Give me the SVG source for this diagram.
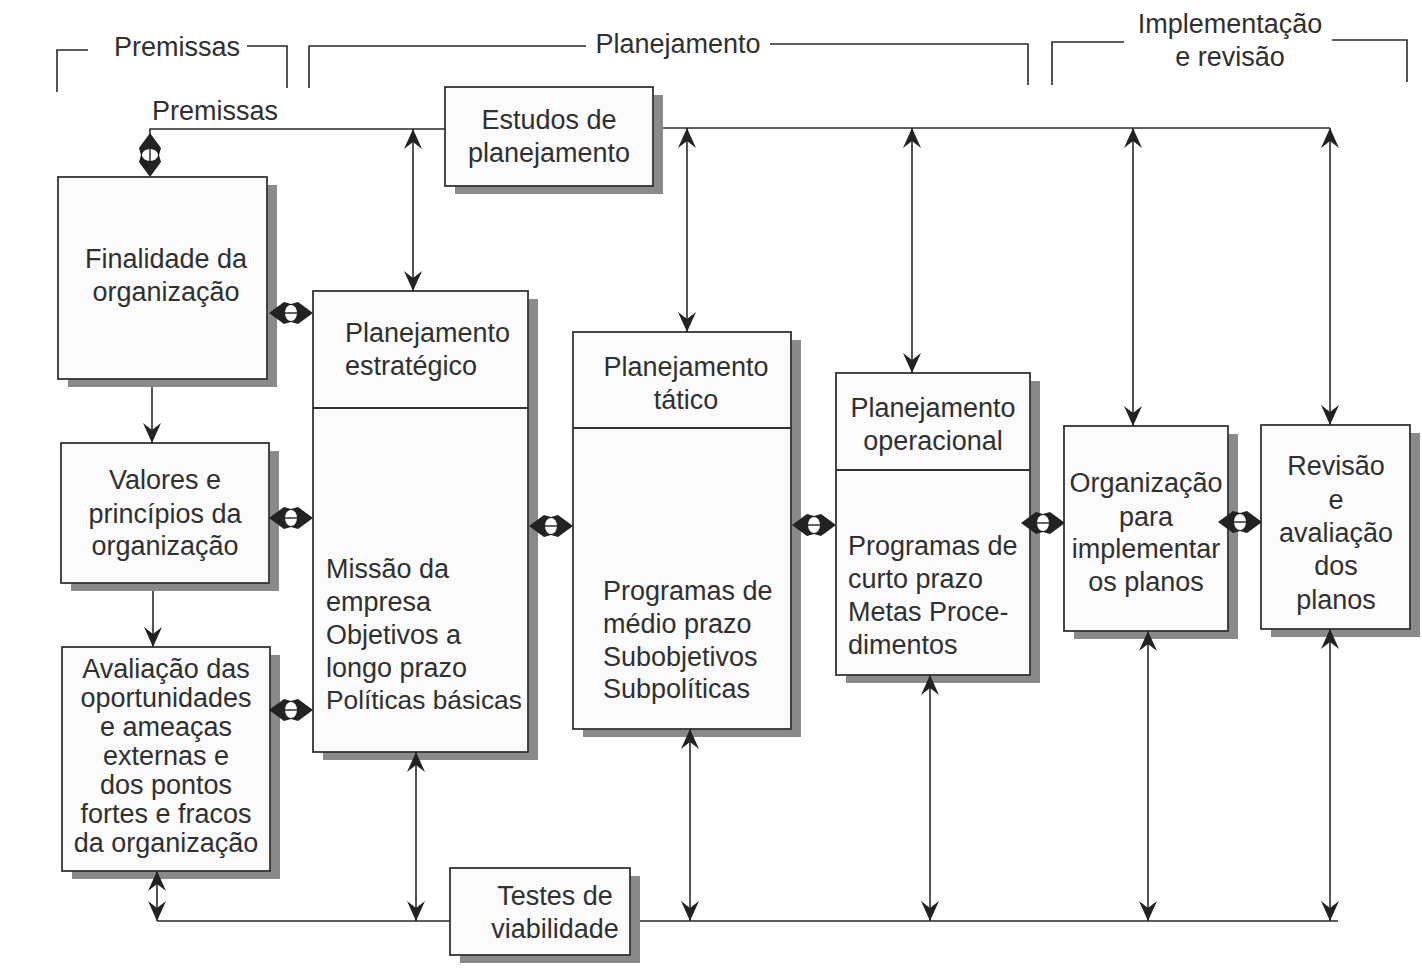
<svg xmlns="http://www.w3.org/2000/svg" width="1422" height="973" viewBox="0 0 1422 973">
<defs>
<style>
.box{fill:#fbfbfb;stroke:#333;stroke-width:1.8}
.sh{fill:#8a8a8a}
.ln{fill:none;stroke:#2a2a2a;stroke-width:1.6}
.ar2{fill:none;stroke:#2a2a2a;stroke-width:1.6;marker-start:url(#ah);marker-end:url(#ah)}
.ar1{fill:none;stroke:#2a2a2a;stroke-width:1.6;marker-end:url(#ah)}
.dv{stroke:#333;stroke-width:1.8}
text{font-family:"Liberation Sans",Arial,sans-serif;font-size:27px;fill:#303030}
.c{text-anchor:middle}
</style>
<marker id="ah" viewBox="-20 -9 20 18" refX="0" refY="0" markerWidth="20" markerHeight="18" markerUnits="userSpaceOnUse" orient="auto-start-reverse">
<path d="M0,0 L-20,-9 L-13,0 L-20,9 Z" fill="#222"/>
</marker>
<g id="dd">
<polygon points="-22,0 -7,-11 0,-9 7,-11 22,0 7,11 0,9 -7,11" fill="#222"/>
<ellipse cx="0" cy="0" rx="6" ry="8" fill="#fff"/>
<line x1="-6" y1="0" x2="6" y2="0" stroke="#222" stroke-width="1.4"/>
</g>
</defs>
<rect width="1422" height="973" fill="#fff"/>

<g id="brackets">
<path class="ln" d="M57,92 V50 H88 M247,46 H287 V88"/>
<path class="ln" d="M309,88 V46 H586 M770,44 H1028 V85"/>
<path class="ln" d="M1052,85 V42 H1124 M1332,40 H1407 V82"/>
<text class="c" x="177" y="56">Premissas</text>
<text class="c" x="678" y="53">Planejamento</text>
<text class="c" x="1230" y="33">Implementação</text>
<text class="c" x="1230" y="66">e revisão</text>
<text class="c" x="215" y="120">Premissas</text>
</g>

<g id="estudos">
<rect class="sh" x="455" y="95" width="208" height="99"/>
<rect class="box" x="445" y="87" width="208" height="99"/>
<text class="c" x="549" y="129">Estudos de</text>
<text class="c" x="549" y="162">planejamento</text>
</g>

<g id="finalidade">
<rect class="sh" x="68" y="185" width="209" height="202"/>
<rect class="box" x="58" y="177" width="209" height="202"/>
<text class="c" x="166" y="268">Finalidade da</text>
<text class="c" x="166" y="301">organização</text>
</g>

<g id="valores">
<rect class="sh" x="71" y="451" width="208" height="140"/>
<rect class="box" x="61" y="443" width="208" height="140"/>
<text class="c" x="165" y="489">Valores e</text>
<text class="c" x="165" y="523">princípios da</text>
<text class="c" x="165" y="555">organização</text>
</g>

<g id="avaliacao">
<rect class="sh" x="72" y="655" width="208" height="224"/>
<rect class="box" x="62" y="647" width="208" height="224"/>
<text class="c" x="166" y="678">Avaliação das</text>
<text class="c" x="166" y="707">oportunidades</text>
<text class="c" x="166" y="736">e ameaças</text>
<text class="c" x="166" y="765">externas e</text>
<text class="c" x="166" y="794">dos pontos</text>
<text class="c" x="166" y="823">fortes e fracos</text>
<text class="c" x="166" y="852">da organização</text>
</g>

<g id="estrategico">
<rect class="sh" x="323" y="299" width="215" height="461"/>
<rect class="box" x="313" y="291" width="215" height="461"/>
<line class="dv" x1="313" y1="408" x2="528" y2="408"/>
<text x="345" y="342">Planejamento</text>
<text x="345" y="375">estratégico</text>
<text x="326" y="578">Missão da</text>
<text x="326" y="611">empresa</text>
<text x="326" y="644">Objetivos a</text>
<text x="326" y="677">longo prazo</text>
<text x="326" y="709" style="font-size:26.3px">Políticas básicas</text>
</g>

<g id="tatico">
<rect class="sh" x="583" y="340" width="218" height="397"/>
<rect class="box" x="573" y="332" width="218" height="397"/>
<line class="dv" x1="573" y1="428" x2="791" y2="428"/>
<text class="c" x="686" y="376">Planejamento</text>
<text class="c" x="686" y="409">tático</text>
<text x="603" y="600">Programas de</text>
<text x="603" y="633">médio prazo</text>
<text x="603" y="666">Subobjetivos</text>
<text x="603" y="698">Subpolíticas</text>
</g>

<g id="operacional">
<rect class="sh" x="846" y="381" width="194" height="302"/>
<rect class="box" x="836" y="373" width="194" height="302"/>
<line class="dv" x1="836" y1="470" x2="1030" y2="470"/>
<text class="c" x="933" y="417">Planejamento</text>
<text class="c" x="933" y="450">operacional</text>
<text x="848" y="555">Programas de</text>
<text x="848" y="588">curto prazo</text>
<text x="848" y="621">Metas Proce-</text>
<text x="848" y="654">dimentos</text>
</g>

<g id="organizacao">
<rect class="sh" x="1074" y="434" width="164" height="205"/>
<rect class="box" x="1064" y="426" width="164" height="205"/>
<text class="c" x="1146" y="492">Organização</text>
<text class="c" x="1146" y="526">para</text>
<text class="c" x="1146" y="558">implementar</text>
<text class="c" x="1146" y="591">os planos</text>
</g>

<g id="revisao">
<rect class="sh" x="1271" y="433" width="149" height="204"/>
<rect class="box" x="1261" y="425" width="149" height="204"/>
<text class="c" x="1336" y="475">Revisão</text>
<text class="c" x="1336" y="509">e</text>
<text class="c" x="1336" y="542">avaliação</text>
<text class="c" x="1336" y="575">dos</text>
<text class="c" x="1336" y="609">planos</text>
</g>

<g id="testes">
<rect class="sh" x="460" y="876" width="180" height="87"/>
<rect class="box" x="450" y="868" width="180" height="87"/>
<text class="c" x="555" y="905">Testes de</text>
<text class="c" x="555" y="938">viabilidade</text>
</g>

<g id="connectors">
<path class="ln" d="M445,129 H150 V135"/>
<path class="ln" d="M663,128 H1330"/>
<line class="ar2" x1="413" y1="129" x2="413" y2="291"/>
<line class="ar2" x1="687" y1="128" x2="687" y2="332"/>
<line class="ar2" x1="912" y1="128" x2="912" y2="373"/>
<line class="ar2" x1="1133" y1="128" x2="1133" y2="426"/>
<line class="ar2" x1="1330" y1="128" x2="1330" y2="425"/>
<line class="ar1" x1="152" y1="387" x2="152" y2="443"/>
<line class="ar1" x1="153" y1="591" x2="153" y2="647"/>
<line class="ar2" x1="157" y1="871" x2="157" y2="921"/>
<path class="ln" d="M157,921 H450 M640,921 H1338"/>
<line class="ar2" x1="416" y1="752" x2="416" y2="921"/>
<line class="ar2" x1="690" y1="729" x2="690" y2="921"/>
<line class="ar2" x1="930" y1="675" x2="930" y2="921"/>
<line class="ar2" x1="1148" y1="631" x2="1148" y2="921"/>
<line class="ar2" x1="1330" y1="629" x2="1330" y2="921"/>
<use href="#dd" transform="translate(150,155) rotate(90)"/>
<use href="#dd" transform="translate(291,313)"/>
<use href="#dd" transform="translate(291,518)"/>
<use href="#dd" transform="translate(291,710)"/>
<use href="#dd" transform="translate(551,526)"/>
<use href="#dd" transform="translate(814,525)"/>
<use href="#dd" transform="translate(1043,523)"/>
<use href="#dd" transform="translate(1240,522)"/>
</g>
</svg>
